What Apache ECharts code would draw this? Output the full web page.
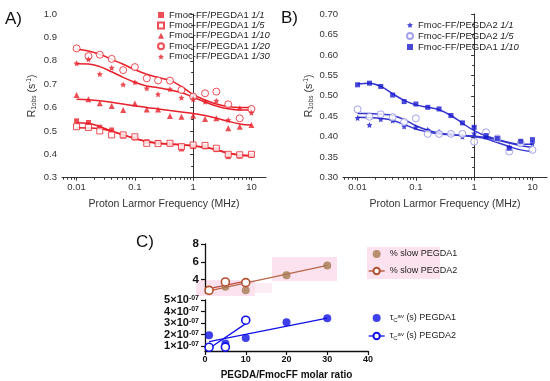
<!DOCTYPE html>
<html><head><meta charset="utf-8">
<script src="https://cdn.jsdelivr.net/npm/echarts@6/dist/echarts.min.js"></script>
<style>html,body{margin:0;padding:0;background:#fff}#c{width:550px;height:381px}</style>
</head><body><div id="c"></div>
<script>
// ---------- data ----------
const freqMHz = [0.01,0.016,0.025,0.04,0.063,0.1,0.16,0.25,0.4,0.63,1,1.6,2.5,4,6.3,10];
const freqTickLabels = [0.01,0.1,1,10];

// Panel A (Fmoc-FF/PEGDA1)
const aNames = ['Fmoc-FF/PEGDA1 1/1','Fmoc-FF/PEGDA1 1/5','Fmoc-FF/PEGDA1 1/10','Fmoc-FF/PEGDA1 1/20','Fmoc-FF/PEGDA1 1/30'];
const a_1_1  = [0.543,0.536,0.516,0.504,0.478,0.470,0.454,0.451,0.445,0.423,0.433,0.432,0.420,0.390,0.392,0.395];
const a_1_5  = [0.518,0.515,0.500,0.483,0.483,0.475,0.447,0.446,0.447,0.433,0.440,0.438,0.426,0.400,0.398,0.400];
const a_1_10 = [0.654,0.635,0.618,0.607,0.590,0.617,0.592,0.592,0.564,0.561,0.565,0.551,0.554,0.511,0.518,0.525];
const a_1_20 = [0.853,0.820,0.826,0.808,0.760,0.773,0.725,0.716,0.715,0.675,0.647,0.661,0.668,0.614,0.554,0.594];
const a_1_30 = [0.789,0.806,0.743,0.770,0.698,0.708,0.682,0.657,0.678,0.642,0.635,0.625,0.629,0.547,0.597,0.578];
const aFit_1_1  = [0.535,0.533,0.518,0.500,0.483,0.468,0.454,0.447,0.443,0.440,0.436,0.429,0.419,0.404,0.396,0.393];
const aFit_1_5  = [0.514,0.513,0.509,0.498,0.484,0.468,0.456,0.448,0.444,0.441,0.437,0.430,0.420,0.406,0.398,0.395];
const aFit_1_10 = [0.635,0.633,0.629,0.623,0.615,0.608,0.600,0.594,0.587,0.581,0.575,0.566,0.554,0.541,0.530,0.525];
const aFit_1_20 = [0.849,0.842,0.828,0.806,0.785,0.762,0.742,0.729,0.716,0.690,0.656,0.632,0.615,0.604,0.600,0.600];
const aFit_1_30 = [0.787,0.786,0.775,0.753,0.729,0.708,0.692,0.685,0.675,0.664,0.644,0.624,0.607,0.595,0.590,0.590];

// Panel B
const bNames = ['Fmoc-FF/PEGDA2 1/1','Fmoc-FF/PEGDA2 1/5','Fmoc-FF/PEGDA1 1/10'];
const b2_1_1  = [0.446,0.429,0.443,0.440,0.425,0.423,0.417,0.412,0.407,0.400,0.408,0.400,0.396,0.375,0.386,0.384];
const b2_1_5  = [0.467,0.449,0.455,0.448,0.436,0.445,0.407,0.407,0.407,0.407,0.388,0.411,0.396,0.364,0.384,0.368];
const b1_1_10 = [0.527,0.531,0.523,0.502,0.486,0.480,0.472,0.468,0.452,0.434,0.423,0.403,0.396,0.372,0.389,0.393];
const bFit2_1_1  = [0.448,0.447,0.445,0.440,0.430,0.419,0.412,0.407,0.405,0.403,0.402,0.398,0.392,0.385,0.378,0.374];
const bFit2_1_5  = [0.457,0.457,0.455,0.452,0.442,0.427,0.416,0.409,0.405,0.403,0.400,0.395,0.386,0.376,0.368,0.364];
const bFit1_1_10 = [0.529,0.531,0.523,0.505,0.489,0.478,0.472,0.466,0.452,0.433,0.415,0.402,0.394,0.386,0.382,0.382];

// Panel C
const ratioP1 = [1,5,10,20,30];
const ratioP2 = [1,5,10];
const slowP1 = [2.8,3.2,2.8,4.5,5.6];
const slowP2 = [2.8,3.74,3.67];
const slowFitP1 = [[1,2.75],[30,5.6]];
const slowFitP2 = [[1,3.0],[10,3.83]];
const tauP1 = [1.95e-7,1.22e-7,1.7e-7,3.08e-7,3.42e-7];
const tauP2 = [0.9e-7,0.92e-7,3.25e-7];
const tauFitP1 = [[1,1.4e-7],[30,3.42e-7]];
const tauFitP2 = [[1,0.8e-7],[10,2.95e-7]];
const cUpperTicks = [4,6,8];
const cLowerTicks = [1e-7,2e-7,3e-7,4e-7,5e-7];
const cNames = ['% slow PEGDA1','% slow PEGDA2','tau PEGDA1','tau PEGDA2'];

// ---------- helpers ----------
const FONT = 'Liberation Sans, Arial, sans-serif';
const RED = '#e8202a', BLUE = '#1a1ad0', LBLUE = '#8c8ce6', BLINE = '#3535d0';
const BROWN = '#a57a50', BROWN2 = '#b4502e', CBLUE = '#1010e6';
const STAR = 'path://M0,-10 L2.9,-4 9.5,-3.1 4.7,1.5 5.9,8.1 0,5 -5.9,8.1 -4.7,1.5 -9.5,-3.1 -2.9,-4 Z';
const logPts = ys => freqMHz.map((f,i)=>[Math.log10(f), ys[i]]);
const xyPts = (xs, ys) => xs.map((x,i)=>[x, ys[i]]);
const LMIN = -2.25, LMAX = 1.25;
const majorLog = freqTickLabels.map(v=>Math.log10(v));
const minorLog = [];
for (let d=-3; d<=1; d++) for (let k=2;k<=9;k++){const v=d+Math.log10(k); if(v>LMIN && v<LMAX) minorLog.push(v);}
const PB = 'B|'; // internal prefix so panel-B names stay unique
const bKeys = bNames.map(n=>PB+n);

function freqAxes(gi){
  return [{
    type:'value', gridIndex:gi, min:LMIN, max:LMAX,
    axisLine:{onZero:false, lineStyle:{color:'#333', width:1}},
    axisTick:{customValues:majorLog, length:3, lineStyle:{color:'#333'}},
    axisLabel:{customValues:majorLog, fontSize:9.5, color:'#333', fontFamily:FONT, margin:5,
      formatter:v=>String(Number(Math.pow(10,v).toPrecision(1)))},
    splitLine:{show:false},
    name:'Proton Larmor Frequency (MHz)', nameLocation:'middle', nameGap:21,
    nameTextStyle:{fontSize:10.5, color:'#333', fontFamily:FONT}
  },{
    type:'value', gridIndex:gi, min:LMIN, max:LMAX, position:'bottom',
    axisLine:{show:false}, axisLabel:{show:false}, splitLine:{show:false},
    axisTick:{customValues:minorLog, length:2, lineStyle:{color:'#333'}}
  }];
}
const rTitleRich = {
  r:{fontSize:10.5, color:'#333', fontFamily:FONT},
  sub:{fontSize:6.5, color:'#333', fontFamily:FONT, verticalAlign:'bottom', padding:[5,0,0,0]},
  sup:{fontSize:6.5, color:'#333', fontFamily:FONT, verticalAlign:'top', padding:[0,0,4,0]}
};
function rAxis(gi, min, max, interval, dec){
  return {
    type:'value', gridIndex:gi, min, max, interval,
    axisLine:{show:true, lineStyle:{color:'#333', width:1}},
    axisTick:{show:true, length:3, lineStyle:{color:'#333'}},
    minorTick:{show:true, splitNumber:2, length:2, lineStyle:{color:'#333'}},
    axisLabel:{fontSize:9.5, color:'#333', fontFamily:FONT, margin:5, formatter:v=>v.toFixed(dec)},
    splitLine:{show:false},
    name:'{r|R}{sub|1obs}{r| (s}{sup|-1}{r|)}', nameLocation:'middle', nameRotate:90, nameGap:dec===1?24:28,
    nameTextStyle:{rich:rTitleRich}
  };
}
function scatter(name, x, y, data, symbol, size, color, hollow){
  return {name, type:'scatter', xAxisIndex:x, yAxisIndex:y, data, symbol, symbolSize:size,
    itemStyle: hollow ? {color:'#fff', borderColor:color, borderWidth:1} : {color},
    z:3};
}
function fit(x, y, data, color, w){
  return {type:'line', xAxisIndex:x, yAxisIndex:y, data, smooth:0.4, showSymbol:false, symbol:'none',
    lineStyle:{color, width:w||1.5}, z:2, silent:true};
}

const xAxes = [...freqAxes(0), ...freqAxes(1),
  {type:'value', gridIndex:2, min:0, max:40, show:false},
  {type:'value', gridIndex:3, min:0, max:40, interval:10,
   axisLine:{onZero:false, lineStyle:{color:'#111', width:1.3}},
   axisTick:{length:4, lineStyle:{color:'#111', width:1.2}},
   axisLabel:{fontSize:9, fontWeight:'bold', color:'#111', fontFamily:FONT, margin:4},
   splitLine:{show:false},
   name:'PEGDA/FmocFF molar ratio', nameLocation:'middle', nameGap:19,
   nameTextStyle:{fontSize:10, fontWeight:'bold', color:'#111', fontFamily:FONT}}
];
const yAxes = [
  rAxis(0, 0.3, 1.0, 0.1, 1),
  rAxis(1, 0.30, 0.70, 0.05, 2),
  {type:'value', gridIndex:2, min:2.5, max:8,
   axisLine:{show:true, lineStyle:{color:'#111', width:1.3}},
   axisTick:{show:true, customValues:cUpperTicks, length:4, lineStyle:{color:'#111', width:1.2}},
   axisLabel:{customValues:cUpperTicks, interval:0, showMinLabel:true, showMaxLabel:true, fontSize:11.5, fontWeight:'bold', color:'#111', fontFamily:FONT, margin:6},
   splitLine:{show:false}},
  {type:'value', gridIndex:3, min:0.58e-7, max:5e-7,
   axisLine:{show:true, lineStyle:{color:'#111', width:1.3}},
   axisTick:{show:true, customValues:cLowerTicks, length:4, lineStyle:{color:'#111', width:1.2}},
   axisLabel:{customValues:cLowerTicks, interval:0, showMinLabel:true, showMaxLabel:true, hideOverlap:false, margin:6,
     formatter:v=>'{b|'+Math.round(v/1e-7)+'×10}{s|-07}',
     rich:{b:{fontSize:11, fontWeight:'bold', color:'#111', fontFamily:FONT, lineHeight:11},
           s:{fontSize:7, fontWeight:'bold', color:'#111', fontFamily:FONT, verticalAlign:'top', lineHeight:11}}},
   splitLine:{show:false}}
];

const series = [
  // A fits
  fit(0,0,logPts(aFit_1_1),RED), fit(0,0,logPts(aFit_1_5),RED), fit(0,0,logPts(aFit_1_10),RED),
  fit(0,0,logPts(aFit_1_20),RED), fit(0,0,logPts(aFit_1_30),RED),
  scatter(aNames[0],0,0,logPts(a_1_1),'rect',5,RED,false),
  scatter(aNames[1],0,0,logPts(a_1_5),'rect',6,RED,true),
  scatter(aNames[2],0,0,logPts(a_1_10),'triangle',6,RED,false),
  scatter(aNames[3],0,0,logPts(a_1_20),'circle',7,RED,true),
  scatter(aNames[4],0,0,logPts(a_1_30),STAR,6,RED,false),
  // B
  fit(2,1,logPts(bFit2_1_1),BLINE), fit(2,1,logPts(bFit2_1_5),BLINE), fit(2,1,logPts(bFit1_1_10),BLINE),
  scatter(bKeys[0],2,1,logPts(b2_1_1),STAR,6,BLUE,false),
  scatter(bKeys[1],2,1,logPts(b2_1_5),'circle',7,LBLUE,true),
  scatter(bKeys[2],2,1,logPts(b1_1_10),'rect',5,BLUE,false),
  // C upper
  {type:'line', xAxisIndex:4, yAxisIndex:2, data:slowFitP1, showSymbol:false, symbol:'none', lineStyle:{color:'#b8664a', width:1.3}, z:2, silent:true},
  {type:'line', xAxisIndex:4, yAxisIndex:2, data:slowFitP2, showSymbol:false, symbol:'none', lineStyle:{color:'#c04a40', width:1.3}, z:2, silent:true},
  {name:cNames[0], type:'scatter', xAxisIndex:4, yAxisIndex:2, data:xyPts(ratioP1,slowP1), symbol:'circle', symbolSize:8, itemStyle:{color:BROWN}, z:3},
  {name:cNames[1], type:'line', xAxisIndex:4, yAxisIndex:2, data:xyPts(ratioP2,slowP2), symbol:'circle', symbolSize:8, showSymbol:true,
   itemStyle:{color:'#fff', borderColor:BROWN2, borderWidth:1.6}, lineStyle:{color:BROWN2, opacity:0, width:1.3}, z:4},
  // C lower
  {type:'line', xAxisIndex:5, yAxisIndex:3, data:tauFitP1, showSymbol:false, symbol:'none', lineStyle:{color:CBLUE, width:1.3}, z:2, silent:true},
  {type:'line', xAxisIndex:5, yAxisIndex:3, data:tauFitP2, showSymbol:false, symbol:'none', lineStyle:{color:CBLUE, width:1.3}, z:2, silent:true},
  {name:cNames[2], type:'scatter', xAxisIndex:5, yAxisIndex:3, data:xyPts(ratioP1,tauP1), symbol:'circle', symbolSize:8, itemStyle:{color:CBLUE}, z:3},
  {name:cNames[3], type:'line', xAxisIndex:5, yAxisIndex:3, data:xyPts(ratioP2,tauP2), symbol:'circle', symbolSize:8, showSymbol:true,
   itemStyle:{color:'#fff', borderColor:CBLUE, borderWidth:1.6}, lineStyle:{color:CBLUE, opacity:0, width:1.3}, z:4}
];

const italicTail = name => name.replace(PB,'').replace(/ (\S+)$/, ' {i|$1}');
const legRich = {i:{fontStyle:'italic', fontSize:9.5, color:'#222', fontFamily:FONT}};
const cRich = {
  t:{fontSize:9, color:'#222', fontFamily:FONT},
  sb:{fontSize:6, color:'#222', fontFamily:FONT, verticalAlign:'bottom', padding:[4,0,0,0]},
  sp:{fontSize:6, color:'#222', fontFamily:FONT, verticalAlign:'top', padding:[0,0,4,0]}
};
const cFmt = n => n.startsWith('tau') ? '{t|τ}{sb|C}{sp|av}{t| (s) '+n.split(' ')[1]+'}' : '{t|'+n+'}';

const option = {
  backgroundColor:'#fff',
  animation:false,
  textStyle:{fontFamily:FONT},
  grid:[
    {left:62, top:14, width:204, height:163.7},
    {left:343, top:14, width:204, height:163.7},
    {left:205, top:244, width:163, height:49},
    {left:205, top:300, width:163, height:52.3}
  ],
  xAxis:xAxes, yAxis:yAxes, series,
  legend:[
    {left:157, top:10, padding:0, orient:'vertical', itemWidth:6, itemHeight:6, itemGap:0.4,
     data:aNames, formatter:italicTail,
     textStyle:{fontSize:9.5, color:'#222', fontFamily:FONT, lineHeight:10, rich:legRich}},
    {left:406, top:20, padding:0, orient:'vertical', itemWidth:6, itemHeight:6, itemGap:1,
     data:bKeys, formatter:italicTail,
     textStyle:{fontSize:9.5, color:'#222', fontFamily:FONT, lineHeight:10, rich:legRich}},
    {left:368, top:249, padding:0, orient:'vertical', itemWidth:16, itemHeight:8, itemGap:7,
     data:[{name:cNames[0]},{name:cNames[1], lineStyle:{opacity:1, width:1.3, color:BROWN2}}],
     formatter:cFmt, textStyle:{fontSize:9, color:'#222', lineHeight:10, rich:cRich}},
    {left:368, top:313, padding:0, orient:'vertical', itemWidth:16, itemHeight:8, itemGap:8,
     data:[{name:cNames[2]},{name:cNames[3], lineStyle:{opacity:1, width:1.3, color:CBLUE}}],
     formatter:cFmt, textStyle:{fontSize:9, color:'#222', lineHeight:10, rich:cRich}}
  ],
  graphic:[
    {type:'rect', z:-1, silent:true, shape:{x:196,y:280,width:59,height:16}, style:{fill:'#fbe2ee'}},
    {type:'rect', z:-1, silent:true, shape:{x:255,y:283,width:17,height:10}, style:{fill:'#fcecf3'}},
    {type:'rect', z:-1, silent:true, shape:{x:272,y:257,width:65,height:24}, style:{fill:'#fbe2ee'}},
    {type:'rect', z:-1, silent:true, shape:{x:367,y:247,width:73,height:32}, style:{fill:'#fbe2ee'}},
    {type:'text', left:5, top:11, style:{text:'A)', fontSize:17, fill:'#111', fontFamily:FONT}},
    {type:'text', left:281, top:10, style:{text:'B)', fontSize:17, fill:'#111', fontFamily:FONT}},
    {type:'text', left:136, top:234, style:{text:'C)', fontSize:17, fill:'#111', fontFamily:FONT}}
  ]
};
const chart = echarts.init(document.getElementById('c'));
chart.setOption(option);
</script></body></html>
